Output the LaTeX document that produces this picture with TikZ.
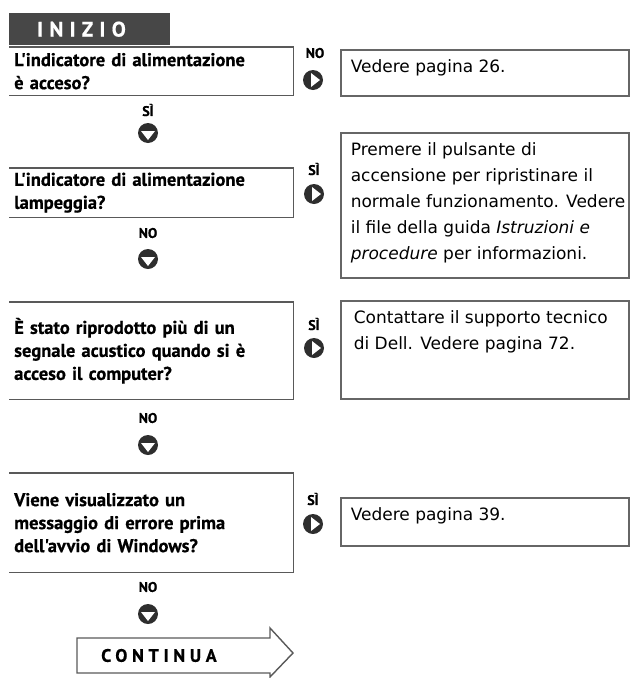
\documentclass[tikz,border=0pt]{standalone}
\usepackage{fontspec}
\setmainfont{DejaVu Sans}
\newfontfamily\qfont{PT Sans}[FakeBold=0.6]
\usepackage{tikz}

\newcommand{\atext}[2]{\parbox[c][#1][t]{288pt}{\raggedright\leftskip=10pt\rule{0pt}{23pt}#2}}

\tikzset{
  startbox/.style={fill=black!72, text=white, anchor=north west, align=left,
    text width=105pt, inner xsep=28pt, minimum height=32pt,
    font=\qfont\bfseries\fontsize{21}{22}\selectfont\addfontfeature{LetterSpace=30}},
  qbox/.style={anchor=north west, align=left, text width=274pt, inner xsep=5pt,
    font=\qfont\bfseries\fontsize{18.5}{23}\selectfont},
  qline/.style={draw=black!65, line width=1.6pt},
  abox/.style={draw=black!60, line width=1.6pt, anchor=north west, inner sep=0pt,
    font=\fontsize{17}{26}\selectfont},
  lbl/.style={inner sep=0pt, font=\qfont\bfseries\fontsize{14}{14}\selectfont},
  icon/.style={fill=black!82},
  goright/.pic={\fill[icon] (0,0) circle (10pt); \fill[white] (-2,-7) -- (7,0) -- (-2,7) -- cycle;},
  godown/.pic={\fill[icon] (0,0) circle (10pt); \fill[white] (-7,-2) -- (7,-2) -- (0,7) -- cycle;},
  contline/.style={draw=black!65, line width=1.4pt},
  contlbl/.style={inner sep=0pt, anchor=west,
    font=\qfont\bfseries\fontsize{18}{20}\selectfont\addfontfeature{LetterSpace=26}}
}

\begin{document}
\begin{tikzpicture}[x=1pt,y=-1pt]
\useasboundingbox (0,0) rectangle (630,678);

% start
\node[startbox] (start) at (9,13) {INIZIO};

% questions
\node[qbox, minimum height=48pt] (q1) at (9,47) {L'indicatore di alimentazione\\è acceso?};
\node[qbox, minimum height=49pt] (q2) at (9,168) {L'indicatore di alimentazione\\lampeggia?};
\node[qbox, minimum height=97pt] (q3) at (9,302) {È stato riprodotto più di un\\segnale acustico quando si è\\acceso il computer?};
\node[qbox, minimum height=99pt] (q4) at (9,473) {Viene visualizzato un\\messaggio di errore prima\\dell'avvio di Windows?};
\foreach \q in {q1,q2,q3,q4}
  \draw[qline] (\q.north west) -- (\q.north east) -- (\q.south east) -- (\q.south west);

% answers
\node[abox] (a1) at (340,49) {\atext{46pt}{Vedere pagina 26.}};
\node[abox] (a2) at (340,132) {\atext{145pt}{Premere il pulsante di\\accensione per ripristinare il\\normale funzionamento. Vedere\\il file della guida \textit{Istruzioni e}\\\textit{procedure} per informazioni.}};
\node[abox] (a3) at (340,300) {\atext{98pt}{\hspace{3pt}Contattare il supporto tecnico\\\hspace{3pt}di Dell. Vedere pagina 72.}};
\node[abox] (a4) at (340,497) {\atext{48pt}{Vedere pagina 39.}};

% branch labels and icons
\node[lbl] (no1) at (315,53) {NO};
\pic (r1) at (313,80) {goright};
\node[lbl] (si1) at (148,110) {SÌ};
\pic (d1) at (148,133) {godown};
\node[lbl] (si2) at (314,169) {SÌ};
\pic (r2) at (314,194) {goright};
\node[lbl] (no2) at (148,233) {NO};
\pic (d2) at (148,259) {godown};
\node[lbl] (si3) at (314,324) {SÌ};
\pic (r3) at (314,348) {goright};
\node[lbl] (no3) at (148,418) {NO};
\pic (d3) at (148,445) {godown};
\node[lbl] (si4) at (313,499) {SÌ};
\pic (r4) at (313,524) {goright};
\node[lbl] (no4) at (148,587) {NO};
\pic (d4) at (148,614) {godown};

% continue arrow
\draw[contline] (77,638) -- (270,638) -- (270,628) -- (293,653) -- (270,677) -- (270,673) -- (77,673) -- cycle;
\node[contlbl] (cont) at (101,655.5) {CONTINUA};

\end{tikzpicture}
\end{document}
